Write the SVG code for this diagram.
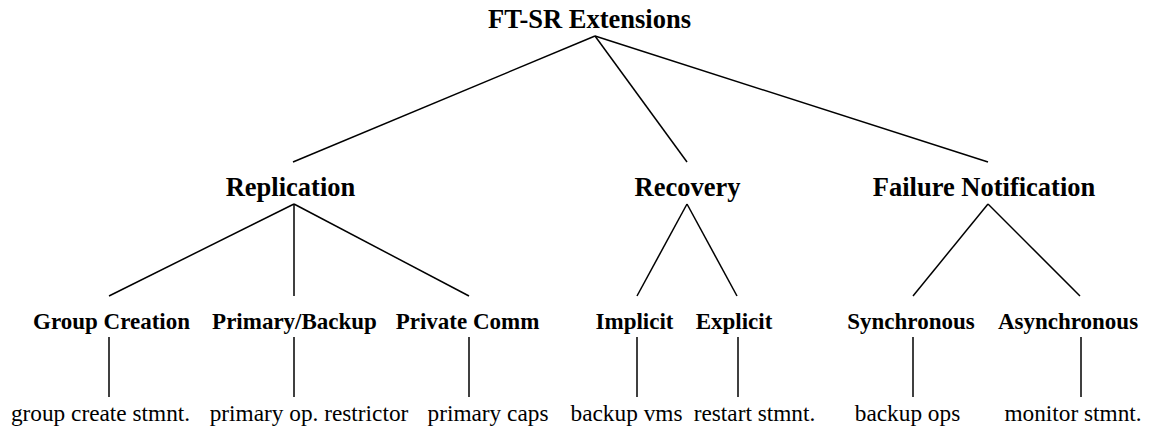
<svg xmlns="http://www.w3.org/2000/svg" width="1151" height="428" viewBox="0 0 1151 428">
<style>
.h1{font-family:"Liberation Serif","Times New Roman",serif;font-weight:bold;font-size:26.5px;text-anchor:middle;fill:#000}
.h2{font-family:"Liberation Serif","Times New Roman",serif;font-weight:bold;font-size:23px;text-anchor:middle;fill:#000}
.lf{font-family:"Liberation Serif","Times New Roman",serif;font-size:23.3px;text-anchor:middle;fill:#000}
.c line{stroke:#000;stroke-width:1.5;fill:none}
</style>
<rect width="1151" height="428" fill="#fff"/>
<g id="connectors" class="c">
<line x1="595" y1="36" x2="293" y2="162"/>
<line x1="595" y1="36" x2="687" y2="162"/>
<line x1="595" y1="36" x2="988" y2="162"/>
<line x1="294" y1="204" x2="109" y2="296"/>
<line x1="294" y1="204" x2="294" y2="296"/>
<line x1="294" y1="204" x2="469" y2="296"/>
<line x1="687" y1="204" x2="637" y2="296"/>
<line x1="687" y1="204" x2="737" y2="296"/>
<line x1="988" y1="204" x2="913" y2="296"/>
<line x1="988" y1="204" x2="1080" y2="296"/>
<line x1="109" y1="337" x2="109" y2="397"/>
<line x1="294" y1="337" x2="294" y2="397"/>
<line x1="469" y1="337" x2="469" y2="397"/>
<line x1="637" y1="337" x2="637" y2="397"/>
<line x1="738" y1="337" x2="738" y2="397"/>
<line x1="913" y1="337" x2="913" y2="397"/>
<line x1="1081" y1="337" x2="1081" y2="397"/>
</g>
<g id="root"><text class="h1" x="589.5" y="28">FT-SR Extensions</text></g>
<g id="replication"><text class="h1" x="290.5" y="196">Replication</text></g>
<g id="recovery"><text class="h1" x="687.5" y="196">Recovery</text></g>
<g id="failure-notification"><text class="h1" x="984" y="196">Failure Notification</text></g>
<g id="group-creation"><text class="h2" x="111.5" y="329">Group Creation</text></g>
<g id="primary-backup"><text class="h2" x="294.5" y="329">Primary/Backup</text></g>
<g id="private-comm"><text class="h2" x="467.5" y="329">Private Comm</text></g>
<g id="implicit"><text class="h2" x="634.5" y="329">Implicit</text></g>
<g id="explicit"><text class="h2" x="734" y="329">Explicit</text></g>
<g id="synchronous"><text class="h2" x="911" y="329">Synchronous</text></g>
<g id="asynchronous"><text class="h2" x="1068" y="329">Asynchronous</text></g>
<g id="group-create-stmnt"><text class="lf" x="100.5" y="421">group create stmnt.</text></g>
<g id="primary-op-restrictor"><text class="lf" x="309" y="421">primary op. restrictor</text></g>
<g id="primary-caps"><text class="lf" x="488" y="421">primary caps</text></g>
<g id="backup-vms"><text class="lf" x="626.5" y="421">backup vms</text></g>
<g id="restart-stmnt"><text class="lf" x="754.5" y="421">restart stmnt.</text></g>
<g id="backup-ops"><text class="lf" x="907.5" y="421">backup ops</text></g>
<g id="monitor-stmnt"><text class="lf" x="1073" y="421">monitor stmnt.</text></g>
</svg>
